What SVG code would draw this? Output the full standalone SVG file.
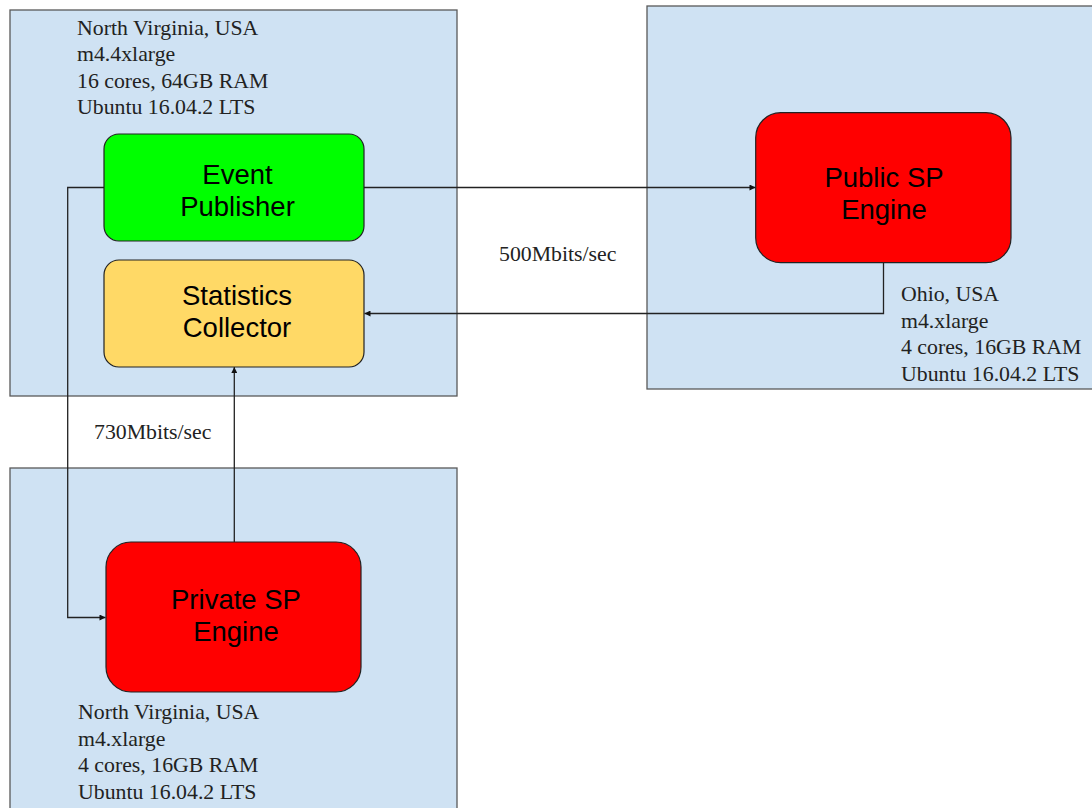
<svg xmlns="http://www.w3.org/2000/svg" width="1092" height="808" viewBox="0 0 1092 808">
  <style>
    .zone { fill: #cfe2f3; stroke: #595959; stroke-width: 1.3; }
    .box { stroke: #222; stroke-width: 1.2; }
    .spec { font-family: "Liberation Serif", "Times New Roman", serif; font-size: 21.8px; fill: #222; }
    .name { font-family: "Liberation Sans", Arial, sans-serif; font-size: 27.5px; fill: #000; text-anchor: middle; }
    .wire { fill: none; stroke: #222; stroke-width: 1.3; }
  </style>
  <defs>
    <marker id="head" viewBox="0 0 10 10" refX="10" refY="5" markerWidth="8" markerHeight="6" markerUnits="userSpaceOnUse" orient="auto">
      <path d="M0,0 L10,5 L0,10 z" fill="#111"/>
    </marker>
  </defs>
  <rect width="1092" height="808" fill="#fff"/>

  <!-- region: North Virginia (publisher host) -->
  <g id="zone-nv-main">
    <rect class="zone" x="10" y="10" width="447" height="386"/>
    <text class="spec" x="77" y="34.5">North Virginia, USA</text>
    <text class="spec" x="77" y="61">m4.4xlarge</text>
    <text class="spec" x="77" y="87.5">16 cores, 64GB RAM</text>
    <text class="spec" x="77" y="114">Ubuntu 16.04.2 LTS</text>
  </g>

  <!-- region: Ohio -->
  <g id="zone-ohio">
    <rect class="zone" x="647" y="6" width="460" height="383"/>
    <text class="spec" x="901" y="301">Ohio, USA</text>
    <text class="spec" x="901" y="327.5">m4.xlarge</text>
    <text class="spec" x="901" y="354">4 cores, 16GB RAM</text>
    <text class="spec" x="901" y="380.5">Ubuntu 16.04.2 LTS</text>
  </g>

  <!-- region: North Virginia (private engine host) -->
  <g id="zone-nv-private">
    <rect class="zone" x="10" y="468" width="447" height="360"/>
    <text class="spec" x="78" y="719">North Virginia, USA</text>
    <text class="spec" x="78" y="745.5">m4.xlarge</text>
    <text class="spec" x="78" y="772">4 cores, 16GB RAM</text>
    <text class="spec" x="78" y="798.5">Ubuntu 16.04.2 LTS</text>
  </g>

  <!-- connectors -->
  <g id="connectors">
    <path class="wire" d="M364,187.5 H755.5" marker-end="url(#head)"/>
    <path class="wire" d="M104,187.5 H67.7 V617.5 H105.5" marker-end="url(#head)"/>
    <path class="wire" d="M883.5,263 V313.5 H364.5" marker-end="url(#head)"/>
    <path class="wire" d="M234.3,542 V367" marker-end="url(#head)"/>
    <text class="spec" x="499" y="261">500Mbits/sec</text>
    <text class="spec" x="94" y="439">730Mbits/sec</text>
  </g>

  <g id="event-publisher">
    <rect class="box" x="104" y="134" width="260" height="107" rx="15" fill="#00ff00"/>
    <text class="name" x="237.5" y="184">Event</text>
    <text class="name" x="237.5" y="216">Publisher</text>
  </g>

  <g id="statistics-collector">
    <rect class="box" x="104" y="260" width="260" height="107" rx="15" fill="#ffd966"/>
    <text class="name" x="237" y="305">Statistics</text>
    <text class="name" x="237" y="337">Collector</text>
  </g>

  <g id="public-sp-engine">
    <rect class="box" x="755.7" y="112.7" width="255.3" height="150" rx="25" fill="#ff0000"/>
    <text class="name" x="884" y="187">Public SP</text>
    <text class="name" x="884" y="219">Engine</text>
  </g>

  <g id="private-sp-engine">
    <rect class="box" x="106" y="542" width="255" height="150" rx="25" fill="#ff0000"/>
    <text class="name" x="236" y="609">Private SP</text>
    <text class="name" x="236" y="641">Engine</text>
  </g>
</svg>
